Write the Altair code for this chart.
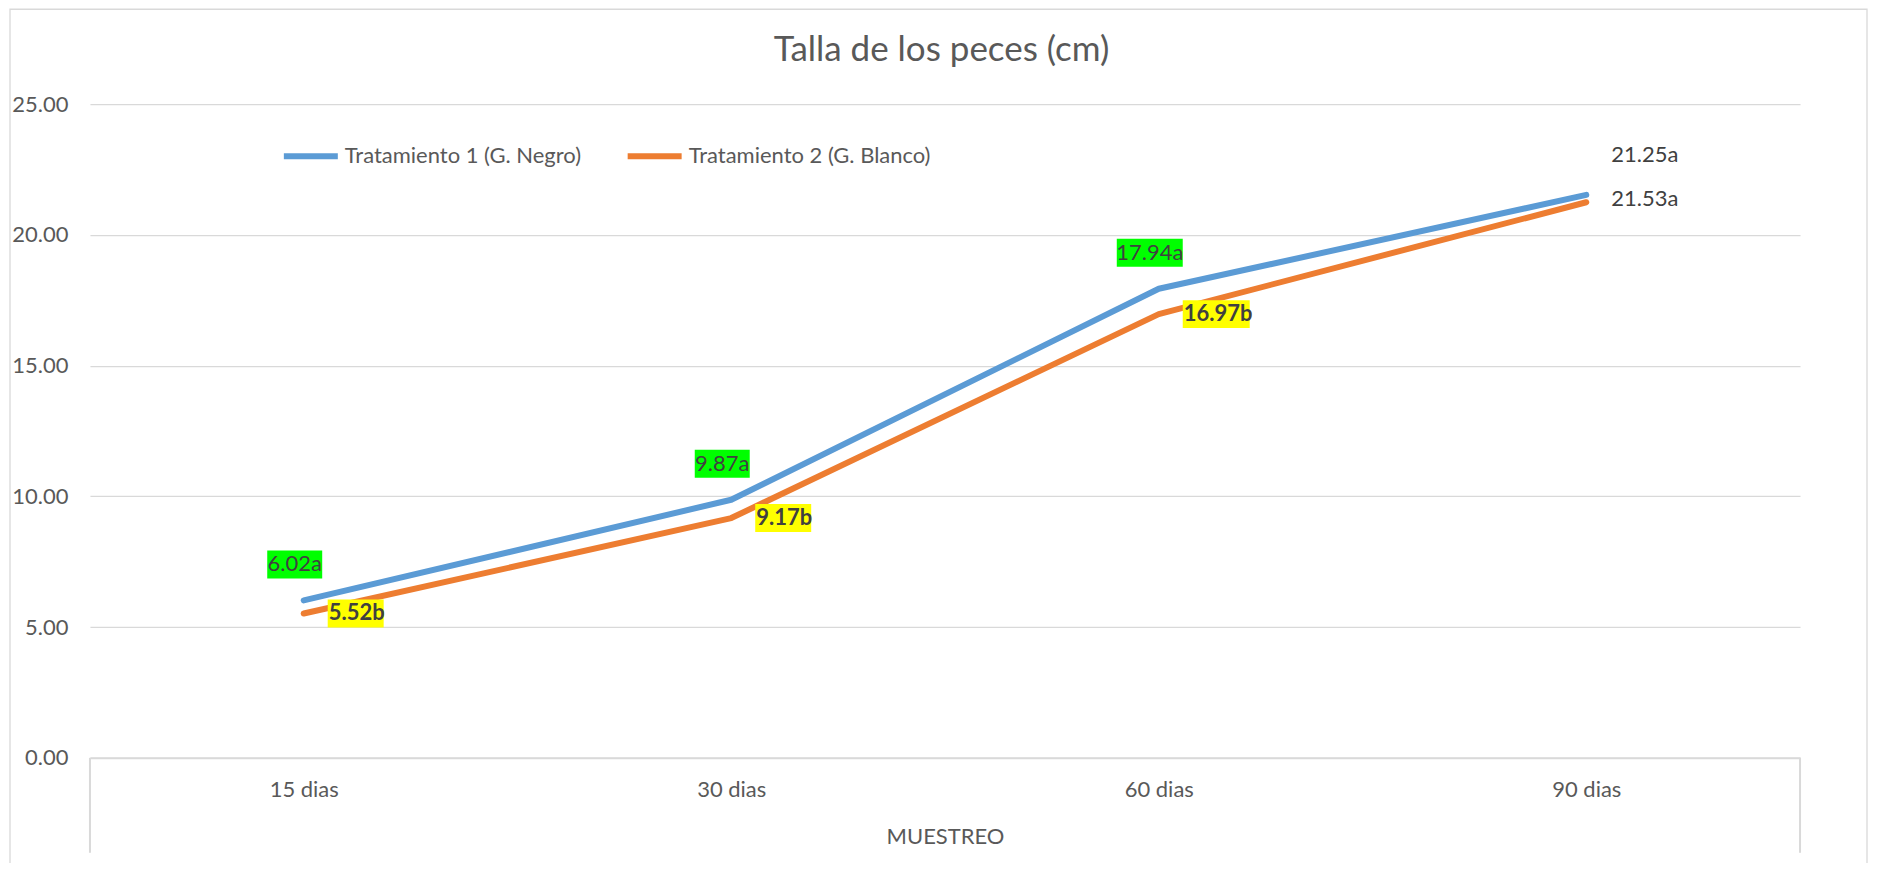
import altair as alt
import pandas as pd

# ---- data ----
dias = ["15 dias", "30 dias", "60 dias", "90 dias"]
t1_vals = [6.02, 9.87, 17.94, 21.53]
t2_vals = [5.52, 9.17, 16.97, 21.25]
t1_labels = ["6.02a", "9.87a", "17.94a", "21.25a"]
t2_labels = ["5.52b", "9.17b", "16.97b", "21.53a"]
series = ["Tratamiento 1 (G. Negro)", "Tratamiento 2 (G. Blanco)"]
y_ticks = [0, 5, 10, 15, 20, 25]
title_text = "Talla de los peces (cm)"
x_title = "MUESTREO"

rows = []
for s, vals, labs in [(series[0], t1_vals, t1_labels), (series[1], t2_vals, t2_labels)]:
    for d, v, l in zip(dias, vals, labs):
        rows.append({"dia": d, "talla": v, "serie": s, "etiqueta": l})
df = pd.DataFrame(rows)
one = pd.DataFrame([{"k": 0}])

W, H = 1711, 654
FONT = "Lato"
GRAY = "#595959"
DARK = "#404040"
LINE = "#d9d9d9"

x_enc = alt.X(
    "dia:N", sort=dias,
    scale=alt.Scale(domain=dias, paddingInner=0, paddingOuter=0),
    axis=alt.Axis(title=x_title, labelAngle=0, labelFontSize=22, labelFont=FONT,
                  labelColor=GRAY, labelBaseline="alphabetic", labelPadding=39,
                  ticks=False, tickSize=0, domainColor=LINE, domainWidth=2, grid=False,
                  titleFont=FONT, titleFontSize=22, titleColor=GRAY,
                  titleFontWeight="normal", titleX=W / 2, titleY=86,
                  titleBaseline="alphabetic"),
)
y_enc = alt.Y(
    "talla:Q",
    scale=alt.Scale(domain=[0, 25], nice=False, zero=True),
    axis=alt.Axis(title=None, values=y_ticks, format=".2f", labelFontSize=22,
                  labelFont=FONT, labelColor=GRAY, labelPadding=22, ticks=False,
                  tickSize=0, domain=False, gridColor=LINE, gridWidth=1.3),
)

base = alt.Chart(df).encode(x=x_enc, y=y_enc)

color_enc = alt.Color(
    "serie:N",
    scale=alt.Scale(domain=series, range=["#5B9BD5", "#ED7D31"]),
    legend=alt.Legend(title=None, orient="none", legendX=191, legendY=22,
                      direction="horizontal", symbolType="stroke", symbolSize=2916,
                      symbolStrokeWidth=6, labelFont=FONT, labelFontSize=22,
                      labelColor=GRAY, labelOffset=4, columnPadding=34,
                      labelLimit=600),
)

lines = base.mark_line(strokeWidth=6, strokeCap="round", strokeJoin="round").encode(
    color=color_enc
)

f1 = f"datum.serie == '{series[0]}' && datum.dia != '{dias[3]}'"
f1_last = f"datum.serie == '{series[0]}' && datum.dia == '{dias[3]}'"
f2 = f"datum.serie == '{series[1]}' && datum.dia != '{dias[3]}'"
f2_last = f"datum.serie == '{series[1]}' && datum.dia == '{dias[3]}'"

bg1 = (
    base.transform_filter(f1)
    .transform_calculate(w="11*length(datum.etiqueta)")
    .transform_calculate(
        shp="'M-1,' + (-28/datum.w) + 'H1V' + (28/datum.w) + 'H-1Z'",
        sz="datum.w*datum.w",
    )
    .mark_point(filled=True, opacity=1, strokeWidth=0, xOffset=-9, yOffset=-36)
    .encode(shape=alt.Shape("shp:N", scale=None), size=alt.Size("sz:Q", scale=None),
            color=alt.value("#00FF00"))
)
bg2 = (
    base.transform_filter(f2)
    .transform_calculate(w="11*length(datum.etiqueta)+1")
    .transform_calculate(
        shp="'M0,' + (-28/datum.w) + 'H2V' + (28/datum.w) + 'H0Z'",
        sz="datum.w*datum.w",
    )
    .mark_point(filled=True, opacity=1, strokeWidth=0, xOffset=24, yOffset=0)
    .encode(shape=alt.Shape("shp:N", scale=None), size=alt.Size("sz:Q", scale=None),
            color=alt.value("#FFFF00"))
)

txt1 = base.transform_filter(f1).mark_text(
    align="center", baseline="middle", dx=-9, dy=-36, font=FONT, fontSize=22, color=DARK
).encode(text="etiqueta:N")
txt1_last = base.transform_filter(f1_last).mark_text(
    align="left", baseline="middle", dx=25, dy=-40, font=FONT, fontSize=22, color=DARK
).encode(text="etiqueta:N")
txt2 = base.transform_filter(f2).mark_text(
    align="left", baseline="middle", dx=25, dy=0, font=FONT, fontSize=22,
    fontWeight="bold", color=DARK
).encode(text="etiqueta:N")
txt2_last = base.transform_filter(f2_last).mark_text(
    align="left", baseline="middle", dx=25, dy=-3, font=FONT, fontSize=22, color=DARK
).encode(text="etiqueta:N")

rule_l = alt.Chart(one).mark_rule(color=LINE, strokeWidth=2).encode(
    x=alt.value(0), y=alt.value(H), y2=alt.value(H + 95))
rule_r = alt.Chart(one).mark_rule(color=LINE, strokeWidth=2).encode(
    x=alt.value(W), y=alt.value(H), y2=alt.value(H + 95))
border = alt.Chart(one).mark_rect(fillOpacity=0, stroke=LINE, strokeWidth=1.3).encode(
    x=alt.value(-80), x2=alt.value(1778), y=alt.value(-95), y2=alt.value(H + 200))
title = alt.Chart(one).mark_text(
    text=title_text, font=FONT, fontSize=35, color=GRAY, align="center",
    baseline="alphabetic").encode(x=alt.value(852), y=alt.value(-43))

chart = alt.layer(
    border, lines, bg1, bg2, txt1, txt1_last, txt2, txt2_last, rule_l, rule_r, title
).properties(
    width=W, height=H,
    padding={"left": 82, "top": 96, "right": 70, "bottom": 105},
    autosize=alt.AutoSizeParams(type="none"),
    background="white",
).configure_view(strokeWidth=0)

chart.save("out.html", embed_options={"renderer": "svg", "actions": False})
